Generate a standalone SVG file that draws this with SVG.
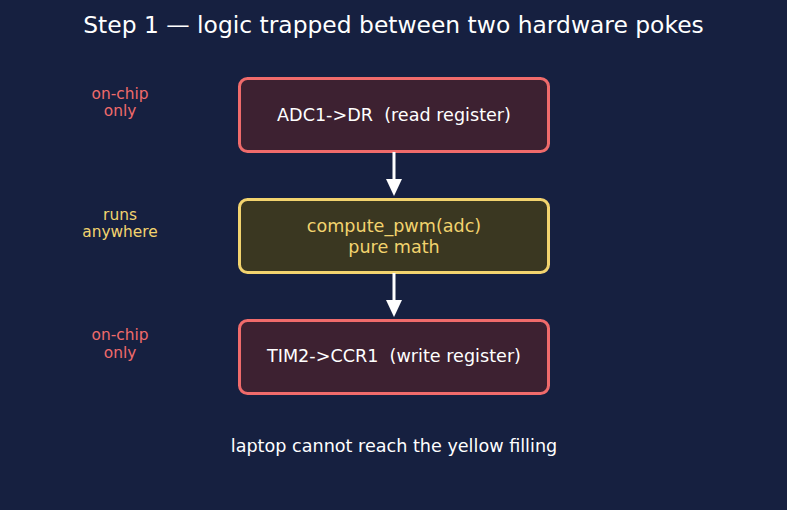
<svg xmlns="http://www.w3.org/2000/svg" width="787" height="510" viewBox="0 0 787 510">
<defs>
<style>
text{font-family:"DejaVu Sans","Liberation Sans",sans-serif;text-anchor:middle;white-space:pre}
.red rect{fill:#3d2131;stroke:#f06b6b;stroke-width:3}
.yel rect{fill:#3a3721;stroke:#f2d36e;stroke-width:3}
.red text{fill:#ffffff;font-size:17.6px}
.yel text{fill:#f2d36e;font-size:17.6px}
.side{font-size:15.4px}
.conn line{stroke:#ffffff;stroke-width:3}
</style>
</defs>
<rect width="787" height="510" fill="#162040"/>
<text x="393.5" y="33" font-size="23.4" fill="#ffffff">Step 1 — logic trapped between two hardware pokes</text>
<g id="label-onchip1"><text class="side" x="120" y="99" fill="#f06b6b">on-chip</text><text class="side" x="120" y="116" fill="#f06b6b">only</text></g>
<g id="label-anywhere"><text class="side" x="120" y="220" fill="#f2d36e">runs</text><text class="side" x="120" y="237" fill="#f2d36e">anywhere</text></g>
<g id="label-onchip2"><text class="side" x="120" y="340" fill="#f06b6b">on-chip</text><text class="side" x="120" y="358" fill="#f06b6b">only</text></g>
<g id="adc" class="red"><rect x="239.5" y="78.5" width="309" height="73" rx="8"/><text x="394" y="121" xml:space="preserve">ADC1-&gt;DR  (read register)</text></g>
<g id="compute" class="yel"><rect x="239.5" y="199.5" width="309" height="73" rx="8"/><text x="394" y="232">compute_pwm(adc)</text><text x="394" y="253">pure math</text></g>
<g id="tim" class="red"><rect x="239.5" y="320.5" width="309" height="73" rx="8"/><text x="394" y="362" xml:space="preserve">TIM2-&gt;CCR1  (write register)</text></g>
<g id="connectors" class="conn">
<line x1="394" y1="152" x2="394" y2="180"/>
<path d="M386,179 L402,179 L394,196 Z" fill="#ffffff"/>
<line x1="394" y1="273" x2="394" y2="301"/>
<path d="M386,300 L402,300 L394,317 Z" fill="#ffffff"/>
</g>
<text x="394" y="452" font-size="17.6" fill="#ffffff">laptop cannot reach the yellow filling</text>
</svg>
